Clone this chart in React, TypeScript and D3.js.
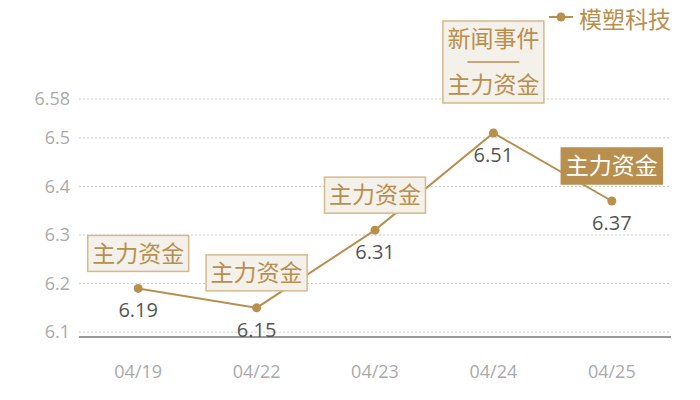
import * as d3 from 'd3';
import React from 'react';

// data
const dates = ['04/19', '04/22', '04/23', '04/24', '04/25'];
const prices = [6.19, 6.15, 6.31, 6.51, 6.37];
const yTicks = [6.1, 6.2, 6.3, 6.4, 6.5, 6.58];
const notes = [['主力资金'], ['主力资金'], ['主力资金'], ['新闻事件', '主力资金'], ['主力资金']];
const highlighted = [false, false, false, false, true];
const seriesName = '模塑科技';

const gold = '#b88f4e';
const cjk = '"Noto Sans CJK SC", "Noto Sans", sans-serif';
const num = '"Open Sans", "Noto Sans CJK SC", sans-serif';

export default () => {
    const width = 700;
    const height = 400;
    const margin = { top: 99, right: 29, bottom: 63, left: 79 };

    const x = d3.scaleBand<string>()
        .domain(dates)
        .range([margin.left, width - margin.right]);
    const y = d3.scaleLinear()
        .domain([6.09, 6.58])
        .range([height - margin.bottom, margin.top]);

    const cx = (d: string) => (x(d) as number) + x.bandwidth() / 2;

    const line = d3.line<number>()
        .x((_, i) => cx(dates[i]))
        .y(d => y(d));

    const boxW = 101;
    const rowH = 36;

    return (
        <svg width={width} height={height}
            style={{ position: 'absolute', left: 0, top: 0, fontFamily: cjk }}>
            {/* grid */}
            {yTicks.map(t => (
                <g key={t}>
                    <line x1={margin.left} x2={width - margin.right} y1={y(t)} y2={y(t)}
                        stroke="#ccc" strokeDasharray="2,2" />
                    <text x={70} y={y(t)} dy="0.35em" textAnchor="end" fontSize={18}
                        fontFamily={num} fill="#aaa">{t}</text>
                </g>
            ))}
            <line x1={margin.left} x2={width - margin.right} y1={y(6.09)} y2={y(6.09)} stroke="#333" />
            {dates.map(d => (
                <text key={d} x={cx(d)} y={372} dy="0.35em" textAnchor="middle" fontSize={18}
                    fontFamily={num} fill="#aaa">{d}</text>
            ))}

            {/* series */}
            <path d={line(prices) as string} fill="none" stroke={gold} strokeWidth={2} />
            {prices.map((v, i) => (
                <g key={i}>
                    <circle cx={cx(dates[i])} cy={y(v)} r={4.5} fill={gold} />
                    <text x={cx(dates[i])} y={y(v) + 22} dy="0.35em" textAnchor="middle" fontSize={20}
                        fontFamily={num} fill="#555">{v}</text>
                </g>
            ))}

            {/* annotation boxes */}
            {notes.map((lines, i) => {
                const px = cx(dates[i]);
                const py = y(prices[i]);
                const sep = lines.length > 1 ? 10 : 0;
                const h = lines.length * rowH + sep * (lines.length - 1);
                const bottom = lines.length > 1 ? py - 30 : py - 17;
                const top = bottom - h;
                const hi = highlighted[i];
                return (
                    <g key={'n' + i}>
                        <rect x={px - boxW / 2} y={top} width={boxW} height={h}
                            fill={hi ? gold : '#f4f0ea'} stroke={hi ? gold : '#d4b98c'} strokeWidth={1.5} />
                        {lines.map((t, j) => (
                            <text key={j} x={px} y={top + rowH / 2 + j * (rowH + sep)} dy="0.36em"
                                textAnchor="middle" fontSize={23} fill={hi ? '#fff' : gold}>{t}</text>
                        ))}
                        {lines.length > 1 && (
                            <line x1={px - 26} x2={px + 26} y1={top + rowH + sep / 2} y2={top + rowH + sep / 2}
                                stroke={gold} strokeWidth={1.5} />
                        )}
                    </g>
                );
            })}

            {/* legend */}
            <line x1={549} x2={573} y1={17} y2={17} stroke={gold} strokeWidth={2} />
            <circle cx={561} cy={17} r={4.5} fill={gold} />
            <text x={579} y={27.5} fontSize={23} fill={gold}>{seriesName}</text>
        </svg>
    );
};
